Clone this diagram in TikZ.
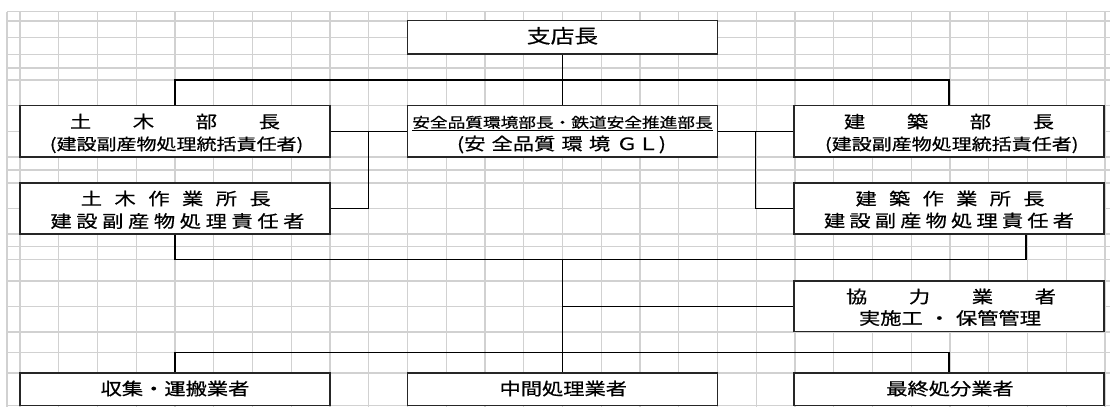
\documentclass[tikz,border=0pt]{standalone}
\usepackage{fontspec}
\setmainfont{Noto Sans CJK JP}[FakeStretch=1.25, FakeBold=0.6]
\newcommand\fsz[1]{\fontsize{#1pt}{#1pt}\selectfont}
\newcommand\spr[2]{\makebox[#1][s]{#2}}
\tikzset{
  gridline/.style={draw=black!18, line width=0.9pt},
  conn/.style={draw=black, line width=0.8pt},
  box/.style={draw=black!85, line width=0.95pt, fill=white, inner sep=0pt, minimum width=232.5pt},
  tall/.style={box, minimum height=38.5pt},
  low/.style={box, minimum height=24.3pt},
  txt/.style={inner sep=0pt, text height=0.83em, text depth=0.08em},
  big/.style={txt, font=\fsz{14.25}},
  mid/.style={txt, font=\fsz{12.75}},
  sml/.style={txt, font=\fsz{12}},
  tiny/.style={txt, font=\fsz{10.6}},
}
\begin{document}
\begin{tikzpicture}[x=0.75pt, y=-0.75pt]
\useasboundingbox (0,0) rectangle (1110,407);
% background grid
\foreach \k in {0,...,28} \draw[gridline] ({20+38.75*\k},11.7) -- ({20+38.75*\k},407);
\draw[gridline] (7,11.7) -- (7,407);
\foreach \yy in {11.7,21,37.5,54.5,68,80,105.7,131.7,157,170,183,208.3,234,246.7,259.5,281,306.5,332,352.7,373,405.5}
  \draw[gridline] (7,\yy) -- (1110,\yy);

% boxes
\node[box, minimum height=25pt] (shiten) at (562.3,37.35) {};
\node[tall] (dbucho) at (175,131.35) {};
\node[tall] (anzen) at (562.3,131.35) {};
\node[tall] (kbucho) at (949,131.35) {};
\node[box, minimum height=38.25pt] (dsagyo) at (175,208.5) {};
\node[box, minimum height=38.25pt] (ksagyo) at (949,208.5) {};
\node[box, minimum height=37.9pt] (kyoryoku) at (949,306.25) {};
\node[low] (shushu) at (175,389.15) {};
\node[low] (chukan) at (562.3,389.15) {};
\node[low] (saishu) at (949,389.15) {};

% connectors
\coordinate (j1) at (562.3,80);
\coordinate (j2) at (368.3,131.35);
\coordinate (j3) at (755.7,131.35);
\coordinate (j4) at (562.3,259.5);
\coordinate (j5) at (562.3,352.7);
\draw[conn] (shiten.south) -- (anzen.north);
\draw[conn] (dbucho.north) |- (j1) -| (kbucho.north);
\draw[conn] (dbucho.east) -- (anzen.west);
\draw[conn] (anzen.east) -- (kbucho.west);
\draw[conn] (j2) |- (dsagyo.east);
\draw[conn] (j3) |- (ksagyo.west);
\draw[conn] (dsagyo.south) |- (j4) -| ([xshift=57.75pt]ksagyo.south);
\draw[conn] (j4) -- (chukan.north);
\draw[conn] (j4 |- kyoryoku.west) -- (kyoryoku.west);
\draw[conn] (shushu.north) |- (j5) -| (saishu.north);

% texts
\node[big] (t1) at (562.5,38) {支店長};
\node[mid] (t2) at (175,123) {\spr{157.5pt}{土\hfill 木\hfill 部\hfill 長}};
\node[sml] (t3) at (175.8,145) {\spr{189pt}{(\hfil 建\hfil 設\hfil 副\hfil 産\hfil 物\hfil 処\hfil 理\hfil 統\hfil 括\hfil 責\hfil 任\hfil 者\hfil )}};
\node[mid] (t4) at (175.8,200) {\spr{142.5pt}{土\hfill 木\hfill 作\hfill 業\hfill 所\hfill 長}};
\node[mid] (t5) at (177.5,222.5) {\spr{190.5pt}{建\hfill 設\hfill 副\hfill 産\hfill 物\hfill 処\hfill 理\hfill 責\hfill 任\hfill 者}};
\node[tiny] (t6) at (562.5,122.7) {\underline{安全品質環境部長・鉄道安全推進部長}};
\node[mid] (t7) at (561.5,145) {\spr{156.75pt}{(\hfil 安\hfill 全品質\hfill 環\hfill 境\hfill Ｇ\hfil Ｌ\hfil )}};
\node[mid] (t8) at (949,123) {\spr{157.5pt}{建\hfill 築\hfill 部\hfill 長}};
\node[sml] (t9) at (950,145) {\spr{187.5pt}{(\hfil 建\hfil 設\hfil 副\hfil 産\hfil 物\hfil 処\hfil 理\hfil 統\hfil 括\hfil 責\hfil 任\hfil 者\hfil )}};
\node[mid] (t10) at (950,200) {\spr{141.75pt}{建\hfill 築\hfill 作\hfill 業\hfill 所\hfill 長}};
\node[mid] (t11) at (949,222) {\spr{187.5pt}{建\hfill 設\hfill 副\hfill 産\hfill 物\hfill 処\hfill 理\hfill 責\hfill 任\hfill 者}};
\node[mid] (t12) at (951,298) {\spr{157.5pt}{協\hfill 力\hfill 業\hfill 者}};
\node[mid] (t13) at (950,319.5) {\spr{136.5pt}{実施工\hfill ・\hfill 保管管理}};
\node[mid] (t14) at (175,390) {収集・運搬業者};
\node[mid] (t15) at (563.3,390) {中間処理業者};
\node[mid] (t16) at (950,390) {最終処分業者};
\end{tikzpicture}
\end{document}
